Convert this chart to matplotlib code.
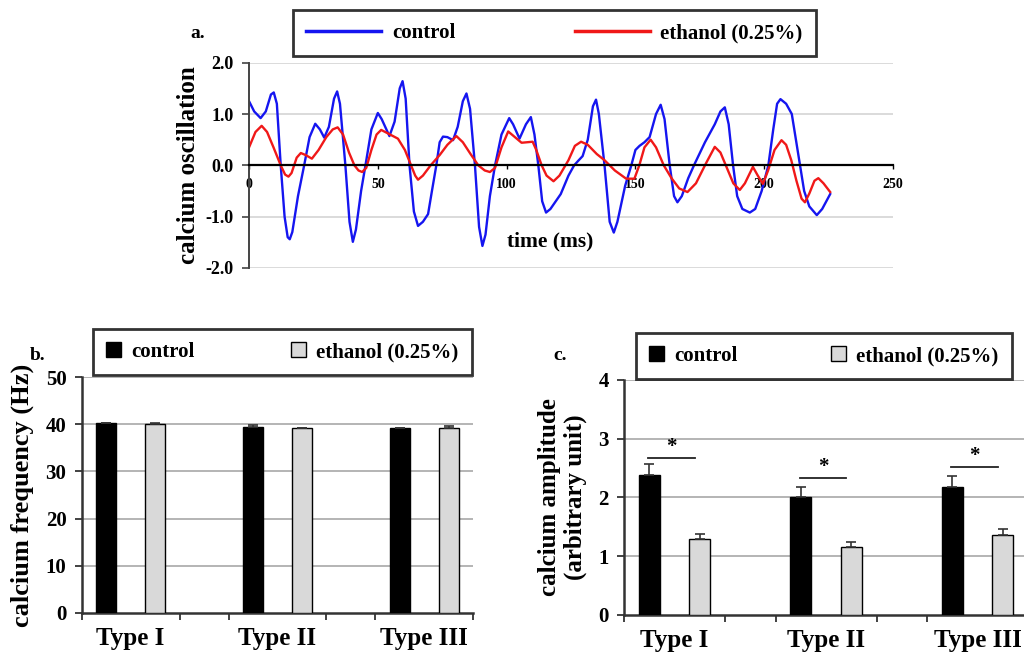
import matplotlib
matplotlib.use("Agg")
import matplotlib.pyplot as plt
import numpy as np

plt.rcParams['font.family'] = ['Liberation Serif', 'DejaVu Serif']
plt.rcParams['font.weight'] = 'bold'

# panel a: calcium oscillation traces
t_control = [0, 2, 4.5, 6.5, 8.5, 9.6, 10.8, 12.3, 13.8, 15.0, 15.8, 16.8, 19, 21.4, 23.5, 25.7,
             27.5, 29.2, 31, 33, 34.2, 35.3, 37.4, 39, 40.3, 41.5, 43.5, 45.2, 47.5, 50.0, 51.5,
             54.5, 56.5, 58.5, 59.6, 60.8, 62.3, 64, 65.6, 67.5, 69.5, 71, 72.7, 74, 75.3, 77,
             79.2, 81, 83, 84.4, 85.8, 87.7, 89.3, 90.6, 91.8, 93.5, 95.5, 98, 101, 102.5, 105,
             107.5, 109.4, 110.8, 112.3, 113.8, 115.3, 117, 121, 124, 126.2, 128, 129.5, 131.5,
             133.5, 134.7, 135.8, 138, 140, 141.6, 143, 146, 148.4, 150, 151.6, 153.5, 155.5,
             158, 159.8, 161.3, 163.3, 165, 166.3, 168, 170.5, 173, 177, 180.8, 183, 184.7,
             186.2, 187.9, 189.5, 191.5, 194.4, 196.5, 199, 201.6, 203.5, 205, 206.3, 208.5,
             210.7, 212.3, 213.9, 215.5, 217.5, 220.4, 222.5, 225.6]
v_control = [1.25, 1.05, 0.92, 1.05, 1.38, 1.42, 1.2, 0.0, -1.0, -1.40, -1.44, -1.3, -0.6, 0.0,
             0.55, 0.81, 0.7, 0.54, 0.75, 1.3, 1.44, 1.2, 0.0, -1.1, -1.49, -1.25, -0.5, 0.0,
             0.7, 1.02, 0.9, 0.57, 0.85, 1.5, 1.64, 1.3, 0.0, -0.9, -1.18, -1.1, -0.95, -0.5,
             0.0, 0.45, 0.56, 0.55, 0.49, 0.75, 1.25, 1.40, 1.1, 0.0, -1.2, -1.57, -1.35, -0.6,
             0.0, 0.6, 0.92, 0.8, 0.52, 0.8, 0.94, 0.6, 0.0, -0.7, -0.92, -0.85, -0.56, -0.2,
             0.0, 0.1, 0.18, 0.5, 1.15, 1.28, 1.0, 0.0, -1.1, -1.31, -1.1, -0.4, 0.0, 0.3, 0.38,
             0.45, 0.55, 1.0, 1.18, 0.9, 0.0, -0.6, -0.72, -0.6, -0.25, 0.03, 0.45, 0.8, 1.05,
             1.13, 0.8, 0.0, -0.6, -0.85, -0.92, -0.85, -0.5, 0.0, 0.7, 1.2, 1.29, 1.2, 1.0,
             0.5, 0.0, -0.5, -0.8, -0.97, -0.85, -0.56]

t_ethanol = [0, 2.5, 4.9, 7, 9.5, 12.3, 14, 15.3, 16.5, 18.5, 20.1, 22, 24.4, 27, 30, 32.5, 34.4,
             36.5, 38.8, 40.9, 42.5, 43.9, 45.5, 47.5, 49.5, 51.3, 54, 57.8, 60.5, 62.5, 64.5,
             65.6, 67.5, 70.5, 74, 77, 80.5, 83, 86, 89, 91.5, 93.5, 95.5, 98, 100.6, 102.5,
             105.8, 110.1, 111.5, 113.6, 115.5, 118.2, 120.5, 124, 126.5, 128.9, 131.5, 135,
             138, 142, 146.4, 149.6, 151.5, 153.5, 155.9, 158, 161, 164, 167, 170.2, 173.5,
             177.5, 180.8, 183, 185.5, 188, 190.5, 192.5, 195.6, 197.5, 199.5, 201.5, 204,
             206.7, 208.5, 210.5, 212.5, 214.5, 215.8, 217.5, 219.5, 221, 223, 225.6]
v_ethanol = [0.35, 0.65, 0.77, 0.65, 0.35, 0.0, -0.18, -0.22, -0.15, 0.15, 0.24, 0.2, 0.13, 0.3,
             0.55, 0.7, 0.74, 0.6, 0.25, 0.0, -0.1, -0.13, -0.05, 0.3, 0.6, 0.69, 0.62, 0.52,
             0.3, 0.05, -0.2, -0.28, -0.2, 0.0, 0.2, 0.4, 0.57, 0.45, 0.22, 0.0, -0.1, -0.13,
             -0.05, 0.35, 0.66, 0.58, 0.44, 0.46, 0.3, 0.0, -0.2, -0.31, -0.2, 0.1, 0.38, 0.46,
             0.4, 0.22, 0.1, -0.1, -0.26, -0.26, 0.0, 0.35, 0.5, 0.35, 0.0, -0.25, -0.45, -0.52,
             -0.35, 0.05, 0.36, 0.25, -0.05, -0.35, -0.48, -0.35, -0.03, -0.2, -0.36, -0.1,
             0.3, 0.49, 0.4, 0.1, -0.3, -0.65, -0.72, -0.55, -0.3, -0.25, -0.35, -0.52]

# panels b and c: bar values
types = ['Type I', 'Type II', 'Type III']
freq_control = [40.2, 39.5, 39.2]
freq_control_err = [0.2, 0.3, 0.1]
freq_ethanol = [40.0, 39.2, 39.2]
freq_ethanol_err = [0.3, 0.1, 0.4]

amp_control = [2.38, 2.0, 2.17]
amp_control_err = [0.19, 0.18, 0.2]
amp_ethanol = [1.30, 1.16, 1.37]
amp_ethanol_err = [0.08, 0.08, 0.09]
sig_level = [2.68, 2.34, 2.52]

fig = plt.figure(figsize=(10.24, 6.53), dpi=100)

# ---- panel a ----
ax = fig.add_axes([0.2432, 0.5896, 0.6289, 0.3144])
ax.plot(t_control, v_control, color='#1515f0', lw=1.7, label='control')
ax.plot(t_ethanol, v_ethanol, color='#f01818', lw=1.7, label='ethanol (0.25%)')
ax.set_xlim(0, 250)
ax.set_ylim(-2.0, 2.0)
ax.set_yticks([-2, -1, 0, 1, 2])
ax.set_yticklabels(['%.1f' % v for v in [-2, -1, 0, 1, 2]], fontsize=13, fontweight='bold')
ax.set_xticks([0, 50, 100, 150, 200, 250])
ax.set_xticklabels(['0', '50', '100', '150', '200', '250'], fontsize=8.5, fontweight='bold')
for y in [-2, -1, 1, 2]:
    ax.axhline(y, color='#d4d4d4', lw=1.2, zorder=0)
ax.spines['top'].set_visible(False)
ax.spines['right'].set_visible(False)
ax.spines['bottom'].set_position(('data', 0))
ax.spines['bottom'].set_linewidth(1.6)
ax.spines['left'].set_color('#444444')
ax.spines['left'].set_linewidth(1.4)
ax.tick_params(axis='y', length=5, width=1.2, color='#444444', pad=6)
ax.tick_params(axis='x', length=3, width=1.0, pad=6)
ax.set_ylabel('calcium oscillation', fontsize=18, fontweight='bold', labelpad=4)
fig.text(550 / 1024, 1 - 241 / 653, 'time (ms)', fontsize=15.5, fontweight='bold',
         ha='center', va='center')
fig.text(198 / 1024, 1 - 33 / 653, 'a.', fontsize=14, fontweight='bold', ha='center', va='center')
leg = ax.legend(loc='center', bbox_to_anchor=(283 / 1024, 1 - 57 / 653, 543 / 1024, 48 / 653),
                bbox_transform=fig.transFigure, ncol=2, mode='expand',
                handlelength=3.6, handletextpad=0.5, borderpad=0.62, fancybox=False,
                edgecolor='black', prop={'size': 15, 'weight': 'bold'})
leg.get_frame().set_linewidth(2)
for line in leg.get_lines():
    line.set_linewidth(2.5)


def bar_panel(rect, ctrl, ctrl_err, eth, eth_err, ymax, step, ylabel, ylabel_size, leg_box):
    axb = fig.add_axes(rect)
    pos_c = np.arange(len(types)) * 3
    pos_e = pos_c + 1
    axb.bar(pos_c, ctrl, width=0.42, color='black', edgecolor='black', lw=1,
            yerr=[np.zeros(len(ctrl)), ctrl_err], capsize=3.5,
            error_kw={'ecolor': '#333333', 'elinewidth': 1.2, 'capthick': 1.2},
            label='control', zorder=3)
    axb.bar(pos_e, eth, width=0.42, color='#d9d9d9', edgecolor='black', lw=1,
            yerr=[np.zeros(len(eth)), eth_err], capsize=3.5,
            error_kw={'ecolor': '#333333', 'elinewidth': 1.2, 'capthick': 1.2},
            label='ethanol (0.25%)', zorder=3)
    axb.set_xlim(-0.5, 7.5)
    axb.set_ylim(0, ymax)
    yt = np.arange(0, ymax + step / 2, step)
    axb.set_yticks(yt)
    axb.set_yticklabels(['%d' % v for v in yt], fontsize=15, fontweight='bold')
    axb.set_xticks(pos_c + 0.5)
    axb.set_xticklabels(types, fontsize=18, fontweight='bold')
    axb.set_xticks(np.arange(-0.5, 8, 1), minor=True)
    axb.tick_params(axis='x', which='major', length=0, pad=10)
    axb.tick_params(axis='x', which='minor', length=5, width=1.3, color='#333333')
    axb.tick_params(axis='y', length=5, width=1.3, color='#333333', pad=6)
    for y in yt[1:]:
        axb.axhline(y, color='#a8a8a8', lw=1.2, zorder=0)
    axb.spines['top'].set_visible(False)
    axb.spines['right'].set_visible(False)
    axb.spines['left'].set_linewidth(1.8)
    axb.spines['bottom'].set_linewidth(1.8)
    axb.spines['left'].set_color('#333333')
    axb.spines['bottom'].set_color('#333333')
    axb.set_ylabel(ylabel, fontsize=ylabel_size, fontweight='bold', labelpad=8, linespacing=1.15)
    lg = axb.legend(loc='center', bbox_to_anchor=leg_box, bbox_transform=fig.transFigure,
                    ncol=2, mode='expand', handlelength=0.7, handleheight=0.7,
                    handletextpad=0.5, borderpad=0.62, fancybox=False, edgecolor='black',
                    prop={'size': 15, 'weight': 'bold'})
    lg.get_frame().set_linewidth(2)
    return axb


bar_panel([0.0798, 0.0617, 0.3824, 0.3605], freq_control, freq_control_err,
          freq_ethanol, freq_ethanol_err, 50, 10, 'calcium frequency (Hz)', 19,
          (83 / 1024, 1 - 375 / 653, 399 / 1024, 46 / 653))
fig.text(38 / 1024, 1 - 355 / 653, 'b.', fontsize=14, fontweight='bold', ha='center', va='center')

axc = bar_panel([0.6094, 0.0582, 0.3945, 0.3599], amp_control, amp_control_err,
                amp_ethanol, amp_ethanol_err, 4, 1, 'calcium amplitude\n(arbitrary unit)', 18,
                (626 / 1024, 1 - 379 / 653, 396 / 1024, 46 / 653))
for i, lvl in enumerate(sig_level):
    x0 = i * 3
    axc.plot([x0 - 0.02, x0 + 0.9], [lvl, lvl], color='#222222', lw=1.3)
    axc.text(x0 + 0.44, lvl + 0.01, '*', fontsize=15, fontweight='bold', ha='center', va='bottom')
fig.text(560 / 1024, 1 - 356 / 653, 'c.', fontsize=14, fontweight='bold', ha='center', va='center')

fig.savefig('out.png', dpi=100)
